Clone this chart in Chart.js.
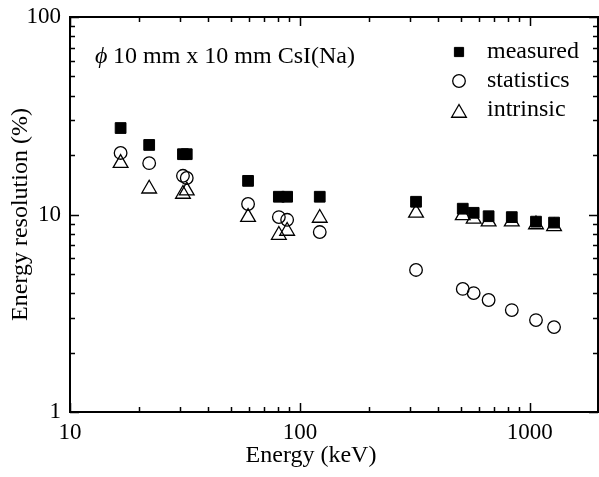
<!DOCTYPE html>
<html>
<head>
<meta charset="utf-8">
<script src="https://cdn.jsdelivr.net/npm/chart.js@4.4.1/dist/chart.umd.min.js"></script>
<style>
html,body{margin:0;padding:0;background:#fff}
canvas{display:block}
</style>
</head>
<body>
<canvas id="res" width="599" height="477"></canvas>
<script>
// gamma-ray energies (keV)
const energy=[16.6,22.1,31,32.2,59.5,81,88,122,320,511,570,662,835,1064,1275]
// energy resolution FWHM (%)
const measured=[27.4,22.5,20.2,20.2,14.8,12.3,12.3,12.3,11.6,10.7,10.2,9.8,9.7,9.2,9.1]
const statistics=[20.5,18.2,15.7,15.3,11.3,9.7,9.4,8.15,5.24,4.2,4.0,3.69,3.28,2.92,2.69]
const intrinsic=[18.2,13.5,12.7,13.2,9.7,7.87,8.25,9.6,10.2,9.9,9.5,9.2,9.2,8.9,8.7]

const xTicks=[10,100,1000]
const yTicks=[1,10,100]

const serif="'Liberation Serif','Times New Roman',serif"

const pts=arr=>arr.map((v,i)=>({x:energy[i],y:v}))

const series=[
{label:"measured",data:pts(measured),pointStyle:"rect",pointRadius:7.6,backgroundColor:"#000",borderColor:"#000",borderWidth:1},
{label:"statistics",data:pts(statistics),pointStyle:"circle",pointRadius:6.3,backgroundColor:"rgba(0,0,0,0)",borderColor:"#000",borderWidth:1.3},
{label:"intrinsic",data:pts(intrinsic),pointStyle:"triangle",pointRadius:8.5,backgroundColor:"rgba(0,0,0,0)",borderColor:"#000",borderWidth:1.3}
]

// drop the half-label padding so the plot box sits where the axes say
const noPad=s=>{s.paddingLeft=0;s.paddingRight=0;s.paddingTop=0;s.paddingBottom=0}

// frame, inward ticks on all four sides, label, legend and x title
const frame={
id:"frame",
afterDraw(chart){
const ctx=chart.ctx
const a=chart.chartArea
const xs=chart.scales.x, ys=chart.scales.y
ctx.save()
ctx.strokeStyle="#000"
ctx.lineWidth=2
ctx.strokeRect(a.left,a.top,a.right-a.left-1,a.bottom-a.top)
ctx.lineWidth=1.5
ctx.beginPath()
for(let d=10;d<=1000;d*=10){
for(let k=1;k<=9;k++){
const v=d*k
if(v>xs.max)break
const p=Math.round(xs.getPixelForValue(v))+0.5
const L=k==1?9:5
ctx.moveTo(p,a.bottom);ctx.lineTo(p,a.bottom-L)
ctx.moveTo(p,a.top);ctx.lineTo(p,a.top+L)
}
}
for(let d=1;d<=100;d*=10){
for(let k=1;k<=9;k++){
const v=d*k
if(v>ys.max)break
const p=Math.round(ys.getPixelForValue(v))+0.5
const L=k==1?9:5
ctx.moveTo(a.left,p);ctx.lineTo(a.left+L,p)
ctx.moveTo(a.right-1,p);ctx.lineTo(a.right-1-L,p)
}
}
ctx.stroke()

ctx.fillStyle="#000"
ctx.textBaseline="alphabetic"
ctx.textAlign="left"
ctx.font="italic 24px "+serif
ctx.fillText("\u03D5",95,63)
ctx.font="24px "+serif
ctx.fillText("10 mm x 10 mm CsI(Na)",113,63)

const rows=[[0,58],[1,87],[2,116]]
rows.forEach(([i,base])=>{
const ds=series[i]
const cy=i==2?base-3:base-6
ctx.fillStyle=ds.backgroundColor
ctx.strokeStyle=ds.borderColor
ctx.lineWidth=ds.borderWidth
Chart.helpers.drawPoint(ctx,{pointStyle:ds.pointStyle,radius:i==0?6.5:ds.pointRadius,borderWidth:ds.borderWidth},459,cy)
ctx.fillStyle="#000"
ctx.fillText(ds.label,487,base)
})

ctx.textAlign="center"
ctx.textBaseline="middle"
ctx.fillText("Energy (keV)",311,456)
ctx.restore()
}
}

new Chart(document.getElementById("res"),{
type:"scatter",
data:{datasets:series},
options:{
responsive:false,
animation:false,
devicePixelRatio:1,
layout:{autoPadding:false,padding:{top:17,right:0,left:0,bottom:0}},
plugins:{legend:{display:false},tooltip:{enabled:false}},
scales:{
x:{
type:"logarithmic",
min:10,max:2000,
grid:{display:false,drawTicks:false},
border:{display:false},
afterBuildTicks:s=>{s.ticks=xTicks.map(v=>({value:v}))},
afterFit:s=>{s.height=65;noPad(s)},
ticks:{color:"#000",font:{family:serif,size:23},padding:7,maxRotation:0,autoSkip:false,callback:v=>String(v)}
},
y:{
type:"logarithmic",
min:1,max:100,
grid:{display:false,drawTicks:false},
border:{display:false},
afterBuildTicks:s=>{s.ticks=yTicks.map(v=>({value:v}))},
afterFit:s=>{s.width=70;noPad(s)},
ticks:{color:"#000",font:{family:serif,size:23},padding:9,autoSkip:false,callback:v=>String(v)},
title:{display:true,text:"Energy resolution (%)",color:"#000",font:{family:serif,size:24},padding:{top:6,bottom:0}}
}
}
},
plugins:[frame]
})
</script>
</body>
</html>
